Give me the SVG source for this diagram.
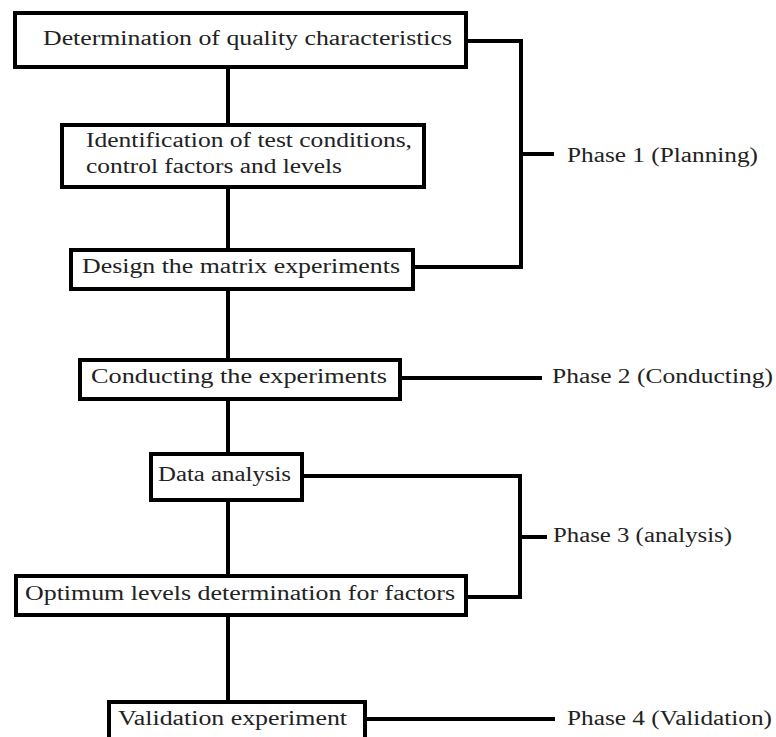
<svg xmlns="http://www.w3.org/2000/svg" width="776" height="737" viewBox="0 0 776 737">
  <style>
    .box { fill: #ffffff; stroke: #000000; stroke-width: 4; }
    .wire { fill: none; stroke: #000000; stroke-width: 4; }
    .lbl { font-family: "Liberation Serif", "DejaVu Serif", serif; font-size: 20px; fill: #222222; }
  </style>
  <rect x="0" y="0" width="776" height="737" fill="#ffffff"/>

  <!-- connectors -->
  <g id="connectors">
    <path class="wire" d="M228,67 V125 M228,187 V250 M228,289 V360 M228,399 V454 M228,500 V576 M228,615 V702"/>
    <!-- phase brackets -->
    <path class="wire" d="M466,41 H521 V267 H413 M521,154 H554"/>
    <path class="wire" d="M400,378 H542"/>
    <path class="wire" d="M302,476 H520 V597 H466 M520,537 H547"/>
    <path class="wire" d="M365,719 H555"/>
  </g>

  <g id="quality">
    <rect class="box" x="15" y="13" width="451" height="54"/>
    <text class="lbl" x="43" y="45" textLength="409" lengthAdjust="spacingAndGlyphs">Determination of quality characteristics</text>
  </g>
  <g id="conditions">
    <rect class="box" x="62" y="125" width="362" height="62"/>
    <text class="lbl" x="86" y="147" textLength="326" lengthAdjust="spacingAndGlyphs">Identification of test conditions,</text>
    <text class="lbl" x="86" y="173" textLength="256" lengthAdjust="spacingAndGlyphs">control factors and levels</text>
  </g>
  <g id="design">
    <rect class="box" x="71" y="250" width="342" height="39"/>
    <text class="lbl" x="82" y="273" textLength="318" lengthAdjust="spacingAndGlyphs">Design the matrix experiments</text>
  </g>
  <g id="conducting">
    <rect class="box" x="80" y="360" width="320" height="39"/>
    <text class="lbl" x="91" y="383" textLength="296" lengthAdjust="spacingAndGlyphs">Conducting the experiments</text>
  </g>
  <g id="analysis">
    <rect class="box" x="151" y="454" width="151" height="46"/>
    <text class="lbl" x="158" y="481" textLength="133" lengthAdjust="spacingAndGlyphs">Data analysis</text>
  </g>
  <g id="optimum">
    <rect class="box" x="16" y="576" width="450" height="39"/>
    <text class="lbl" x="25" y="600" textLength="430" lengthAdjust="spacingAndGlyphs">Optimum levels determination for factors</text>
  </g>
  <g id="validation">
    <rect class="box" x="109" y="702" width="256" height="60"/>
    <text class="lbl" x="118" y="725" textLength="229" lengthAdjust="spacingAndGlyphs">Validation experiment</text>
  </g>

  <g id="phase1">
    <text class="lbl" x="567" y="162" textLength="191" lengthAdjust="spacingAndGlyphs">Phase 1 (Planning)</text>
  </g>
  <g id="phase2">
    <text class="lbl" x="552" y="383" textLength="221" lengthAdjust="spacingAndGlyphs">Phase 2 (Conducting)</text>
  </g>
  <g id="phase3">
    <text class="lbl" x="553" y="542" textLength="179" lengthAdjust="spacingAndGlyphs">Phase 3 (analysis)</text>
  </g>
  <g id="phase4">
    <text class="lbl" x="567" y="725" textLength="205" lengthAdjust="spacingAndGlyphs">Phase 4 (Validation)</text>
  </g>
</svg>
